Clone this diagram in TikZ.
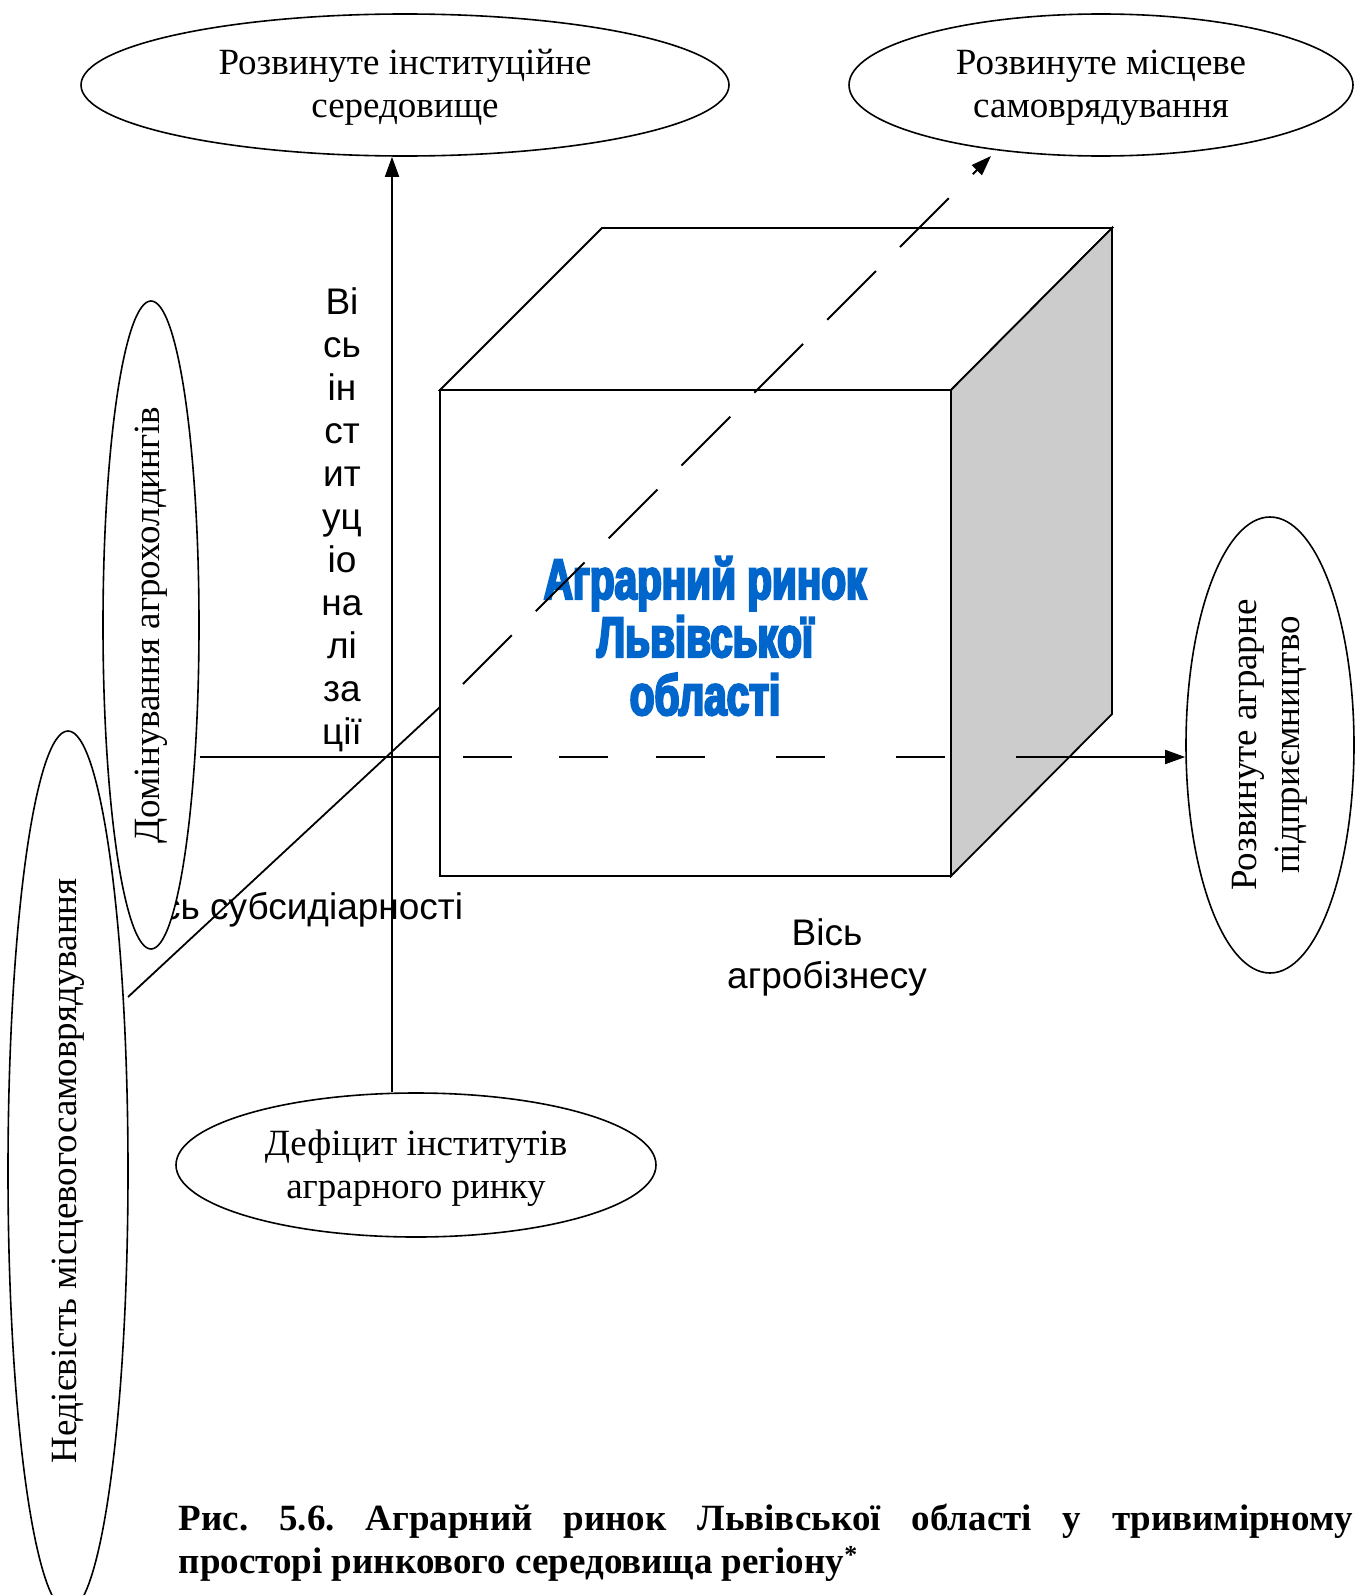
\documentclass[tikz,border=0pt]{standalone}
\usepackage{fontspec}
\setmainfont{Liberation Serif}
\setsansfont{Liberation Sans}
\newfontfamily\impactfont{Liberation Sans}[FakeStretch=0.71, FakeBold=4]
\usetikzlibrary{shapes.geometric, arrows.meta}
\definecolor{cubeblue}{HTML}{0066CC}
\definecolor{facegray}{HTML}{CCCCCC}
\frenchspacing
\begin{document}
\begin{tikzpicture}[x=1pt, y=-1pt,
  line width=1.8pt,
  oval/.style={ellipse, draw, fill=white, inner sep=0pt, align=center, line width=1.6pt,
    font=\fontsize{37}{43}\selectfont},
  axislabel/.style={font=\sffamily\fontsize{37}{43}\selectfont, align=center, inner sep=0pt},
  arr/.style={-{Triangle[length=20pt, width=14pt]}},
  hidh/.style={dash pattern=on 49pt off 47pt on 49pt off 48pt on 49pt off 71pt on 49pt off 71pt on 49pt off 100pt},
  hidd/.style={dash pattern=on 69pt off 34pt},
  capfont/.style={font=\bfseries\fontsize{37}{43}\selectfont, inner sep=0pt}
]
\useasboundingbox[fill=white] (0,0) rectangle (1365,1595);

% axis labels (drawn first, ellipses may cover them)
\node[axislabel] (lblv) at (342,520) {Ві\\сь\\ін\\ст\\ит\\уц\\іо\\на\\лі\\за\\ції};
\node[axislabel, anchor=east] (lbls) at (464,910) {Вісь субсидіарності};
\node[axislabel] (lbla) at (827,957) {Вісь\\агробізнесу};

% ellipses
\node[oval, minimum width=648pt, minimum height=142pt] (tl) at (405,85) {\rule{0pt}{30pt}Розвинуте інституційне\\середовище};
\node[oval, minimum width=504pt, minimum height=142pt] (tr) at (1101,85) {\rule{0pt}{30pt}Розвинуте місцеве\\самоврядування};
\node[oval, rotate=90, minimum width=648pt, minimum height=96pt] (dom) at (151,625) {Домінування агрохолдингів};
\node[oval, rotate=90, minimum width=880pt, minimum height=120pt] (ned) at (68,1171) {Недієвість місцевогосамоврядування};
\node[oval, rotate=90, minimum width=456pt, minimum height=168pt] (rt) at (1270,745) {Розвинуте аграрне\\підприємництво};
\node[oval, minimum width=480pt, minimum height=144pt] (bot) at (416,1165) {\rule{0pt}{32pt}Дефіцит інститутів\\аграрного ринку};

% key points
\coordinate (O) at (392,757);
\coordinate (A) at (440,390);
\coordinate (B) at (951,390);
\coordinate (C) at (951,876);
\coordinate (D) at (440,876);
\coordinate (E) at (602,228);
\coordinate (F) at (1112,228);
\coordinate (G) at (1112,714);
\coordinate (d0) at (128,997);
\coordinate (d1) at (440,707);
\coordinate (d2) at (463,684);
\coordinate (d3) at (991,156);
\coordinate (h1) at (463,757);
\coordinate (h2) at (945,757);
\coordinate (h3) at (1016,757);

% solid axes
\draw[arr] (O |- bot.north) -- (O |- tl.south);
\draw (dom.south |- O) -- (A |- O);
\draw (d0) -- (d1);

% cube
\draw[fill=white] (A) -- (B) -- (C) -- (D) -- cycle;
\draw[fill=white] (A) -- (E) -- (F) -- (B) -- cycle;
\draw[fill=facegray] (B) -- (F) -- (G) -- (C) -- cycle;

\node[font=\impactfont\bfseries\fontsize{57}{58}\selectfont, text=cubeblue, align=center, inner sep=0pt] (title) at (705,636) {Аграрний ринок\\Львівської\\області};

% hidden parts
\draw[hidh] (h1) -- (h2);
\draw[hidd, arr] (d2) -- (d3);
\draw[arr] (h3) -- (rt.north |- O);

% caption
\node[capfont, anchor=base west] (cap1) at (178,1530) {\makebox[1174pt][s]{Рис. 5.6. Аграрний ринок Львівської області у тривимірному}};
\node[capfont, anchor=base west] (cap2) at (178,1573) {просторі ринкового середовища регіону\textsuperscript{*}};
\end{tikzpicture}
\end{document}
